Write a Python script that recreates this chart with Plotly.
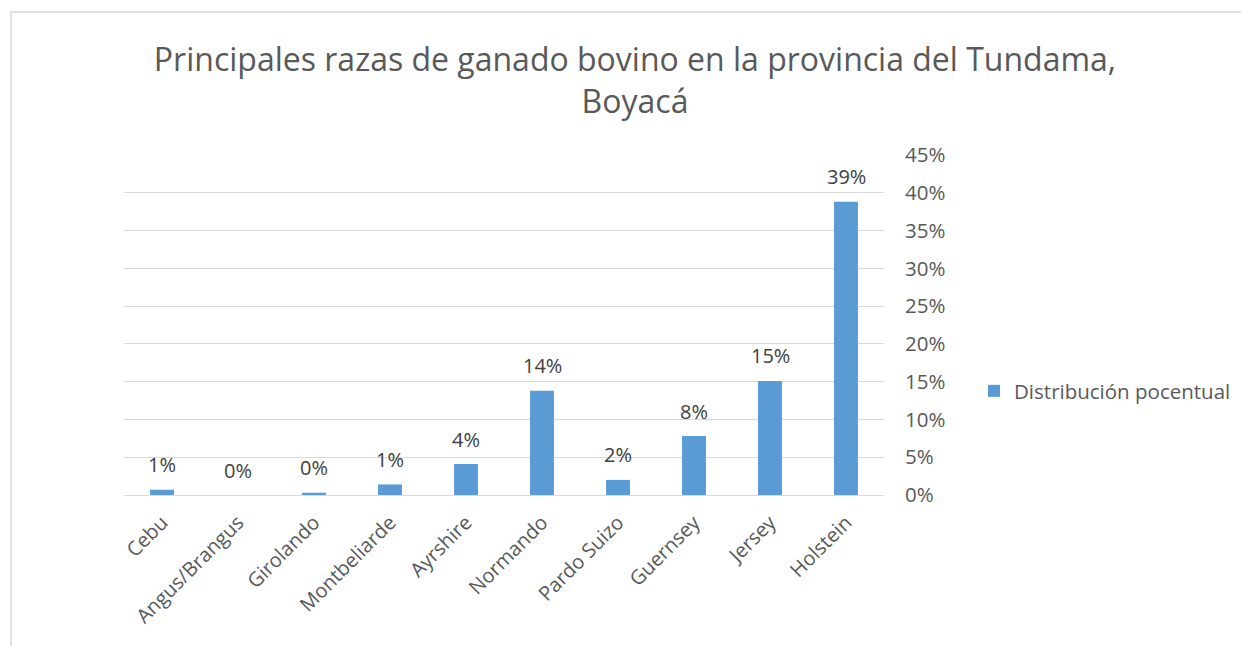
import plotly.graph_objects as go

categories = ["Cebu", "Angus/Brangus", "Girolando", "Montbeliarde", "Ayrshire",
              "Normando", "Pardo Suizo", "Guernsey", "Jersey", "Holstein"]
values = [0.007, 0.0, 0.003, 0.014, 0.041, 0.138, 0.020, 0.078, 0.151, 0.388]
series_name = "Distribución pocentual"
title_text = "Principales razas de ganado bovino en la provincia del Tundama,<br>Boyacá"
y_ticks = [0, 0.05, 0.10, 0.15, 0.20, 0.25, 0.30, 0.35, 0.40, 0.45]

W, H = 1249, 646
OFF = 8  # page body margin
# plot area in page pixel coordinates
PL, PR, PT, PB = 124, 884, 155, 495
L, T = PL - OFF, PT - OFF
R, B = W - (PR - OFF), H - (PB - OFF)
pw, ph = PR - PL, PB - PT

def px(x):
    return (x - PL) / pw

def py(y):
    return (PB - y) / ph

FONT = "Open Sans"

fig = go.Figure()
fig.add_trace(go.Bar(
    x=categories, y=values, name=series_name,
    marker=dict(color="#5B9BD5", line=dict(width=0)),
    cliponaxis=False, showlegend=True,
))

for cat, val in zip(categories, values):
    fig.add_annotation(x=cat, y=val, text=f"{val:.0%}", showarrow=False,
                       xanchor="center", yanchor="middle", yshift=25,
                       font=dict(size=20, color="#404040", family=FONT))

fig.update_layout(
    width=W, height=H,
    margin=dict(l=L, r=R, t=T, b=B, autoexpand=False),
    paper_bgcolor="white", plot_bgcolor="white",
    bargap=0.685,
    font=dict(family=FONT, color="#595959"),
    title=dict(text=title_text, x=(635 - OFF) / W, xanchor="center",
               yref="container", y=1 - (80 - OFF - 9) / H, yanchor="middle",
               font=dict(size=32, color="#595959", family=FONT)),
    xaxis=dict(tickangle=-45, tickfont=dict(size=20, color="#595959"),
               showgrid=False, showline=False, automargin=False,
               ticks="outside", ticklen=7, tickcolor="rgba(0,0,0,0)"),
    yaxis=dict(side="right", range=[0, 0.45], tickvals=y_ticks, tickformat=".0%",
               tickfont=dict(size=20.5, color="#595959"), automargin=False,
               showgrid=True, gridcolor="#D9D9D9", gridwidth=1,
               zeroline=True, zerolinecolor="#D9D9D9", zerolinewidth=1,
               showline=False, ticks="", ticklabelstandoff=20),
    legend=dict(x=px(974), xanchor="left", y=py(391), yanchor="middle",
                font=dict(size=20.5, color="#595959"), bgcolor="rgba(0,0,0,0)"),
    shapes=[dict(type="rect", xref="paper", yref="paper",
                 x0=px(11), x1=px(1300), y0=py(700), y1=py(12),
                 line=dict(color="#D9D9D9", width=1.5), fillcolor="rgba(0,0,0,0)",
                 layer="below")],
)

fig.write_html("out.html")
